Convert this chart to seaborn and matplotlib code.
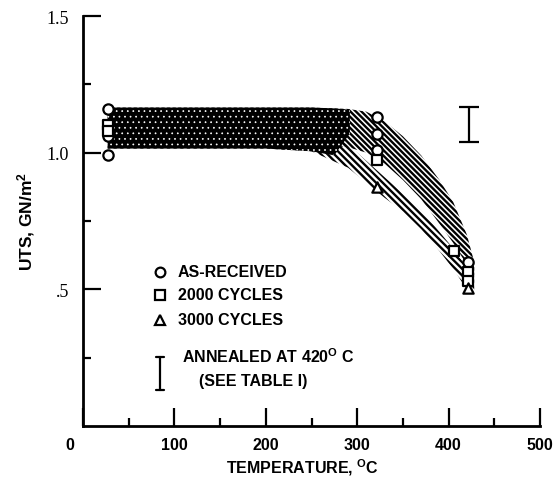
import numpy as np
import pandas as pd
import matplotlib
matplotlib.use("Agg")
import matplotlib.pyplot as plt
import matplotlib.transforms as mtransforms
import seaborn as sns

# --- measured ultimate tensile strength, GN/m^2 -----------------------------
received_temp = [27, 27, 27, 322, 322, 322, 421]
received_uts = [1.16, 1.06, 0.99, 1.13, 1.07, 1.01, 0.60]

cycles2000_temp = [27, 27, 322, 406, 421, 421]
cycles2000_uts = [1.10, 1.08, 0.975, 0.64, 0.565, 0.53]

cycles3000_temp = [322, 421]
cycles3000_uts = [0.875, 0.505]

# annealed scatter band (error bar)
annealed_temp = [422]
annealed_uts = [1.103]
annealed_err = [0.064]

# scatter bands
band_temp = [27, 100, 200, 250, 290, 310, 330, 350, 370, 390, 405, 420, 428]
band_a_upper = [1.165, 1.165, 1.165, 1.165, 1.16, 1.15, 1.115, 1.06, 0.99, 0.90, 0.82, 0.70, 0.60]
band_a_lower = [1.03, 1.03, 1.03, 1.03, 1.02, 1.00, 0.96, 0.90, 0.83, 0.74, 0.67, 0.59, 0.55]
band_b_upper = [1.10, 1.10, 1.10, 1.08, 1.03, 0.97, 0.91, 0.85, 0.79, 0.71, 0.65, 0.58, 0.54]
band_b_lower = [1.015, 1.015, 1.015, 1.005, 0.945, 0.89, 0.835, 0.785, 0.72, 0.64, 0.575, 0.50, 0.49]
flat_temp = [27, 100, 200, 250, 275, 292]
flat_upper = [1.165, 1.165, 1.165, 1.165, 1.162, 1.157]
flat_lower = [1.015, 1.015, 1.015, 1.005, 0.99, 1.07]

x_ticks = [0, 100, 200, 300, 400, 500]
y_ticks = [0.5, 1.0, 1.5]
y_tick_labels = [".5", "1.0", "1.5"]

sns.set_theme(style="ticks")
SANS = ["Liberation Sans", "DejaVu Sans"]
plt.rcParams["font.family"] = SANS
plt.rcParams["font.weight"] = "bold"
plt.rcParams["text.color"] = "black"
plt.rcParams["axes.labelcolor"] = "black"
plt.rcParams["xtick.color"] = "black"
plt.rcParams["ytick.color"] = "black"
plt.rcParams["mathtext.fontset"] = "custom"
plt.rcParams["mathtext.rm"] = "Liberation Sans:bold"
plt.rcParams["mathtext.it"] = "Liberation Sans:bold"
plt.rcParams["mathtext.bf"] = "Liberation Sans:bold"

FS = 11.5
fig = plt.figure(figsize=(5.53, 4.81), dpi=100)
ax = fig.add_axes([83 / 553, 54 / 481, 457 / 553, 410 / 481])

# hatched scatter bands
plt.rcParams["hatch.linewidth"] = 1.7
ax.fill_between(band_temp, band_a_lower, band_a_upper, facecolor="none",
                edgecolor="black", hatch="\\" * 6, linewidth=0)
ax.fill_between(band_temp, band_b_lower, band_b_upper, facecolor="none",
                edgecolor="black", hatch="\\" * 5, linewidth=0)
# overlap of the bands at low temperature: black with a white dot screen
plt.rcParams["hatch.linewidth"] = 0.5
ax.fill_between(flat_temp, flat_lower, flat_upper, facecolor="black",
                edgecolor="white", hatch="...", linewidth=0)

# data points
df = pd.concat([
    pd.DataFrame({"temp": received_temp, "uts": received_uts, "cond": "AS-RECEIVED"}),
    pd.DataFrame({"temp": cycles2000_temp, "uts": cycles2000_uts, "cond": "2000 CYCLES"}),
    pd.DataFrame({"temp": cycles3000_temp, "uts": cycles3000_uts, "cond": "3000 CYCLES"}),
])
markers = {"AS-RECEIVED": "o", "2000 CYCLES": "s", "3000 CYCLES": "^"}
for cond, mk in markers.items():
    sub = df[df["cond"] == cond]
    sns.scatterplot(data=sub, x="temp", y="uts", marker=mk, s=55,
                    color="white", edgecolor="black", linewidth=1.6,
                    ax=ax, legend=False, zorder=3)

ax.errorbar(annealed_temp, annealed_uts, yerr=annealed_err, fmt="none",
            ecolor="black", elinewidth=1.6, capsize=7, capthick=1.6)

# axes
ax.set_xlim(0, 500)
ax.set_ylim(0, 1.5)
sns.despine(ax=ax)
for s in ("left", "bottom"):
    ax.spines[s].set_linewidth(2.0)
    ax.spines[s].set_color("black")
ax.set_xticks(x_ticks)
ax.set_xticks([50, 150, 250, 350, 450], minor=True)
ax.set_yticks(y_ticks)
ax.set_yticks([0.25, 0.75, 1.25], minor=True)
ax.set_yticklabels(y_tick_labels, family="Liberation Serif", fontsize=13, weight="normal")
ax.set_xticklabels([str(v) for v in x_ticks], fontsize=FS, weight="bold")
ax.tick_params(which="major", direction="in", length=13, width=1.6, color="black", pad=8)
ax.tick_params(which="minor", direction="in", length=6, width=1.6, color="black")
ax.tick_params(axis="y", which="major", pad=10)

# the zero label sits slightly left of the origin
zero_lbl = ax.get_xticklabels()[0]
zero_lbl.set_transform(zero_lbl.get_transform() +
                       mtransforms.ScaledTranslation(-0.13, 0, fig.dpi_scale_trans))

ax.set_xlabel(r"TEMPERATURE, $^{\mathrm{O}}$C", fontsize=FS, weight="bold")
ax.xaxis.set_label_coords(0.48, -0.075)
ax.set_ylabel(r"UTS, GN/m$^{\mathrm{2}}$", fontsize=12.5, weight="bold")
ax.yaxis.set_label_coords(-0.10, 0.502)

# key
kx, tx = 0.168, 0.208
tr = ax.transAxes
for y, mk, lbl in [(0.376, "o", "AS-RECEIVED"), (0.320, "s", "2000 CYCLES"),
                   (0.259, "^", "3000 CYCLES")]:
    ax.plot([kx], [y], marker=mk, ms=7, mfc="white", mec="black", mew=1.6,
            transform=tr, clip_on=False)
    ax.text(tx, y, lbl, transform=tr, fontsize=FS, weight="bold", va="center")
ax.plot([kx, kx], [0.088, 0.168], color="black", lw=1.6, transform=tr)
for y in (0.088, 0.168):
    ax.plot([kx - 0.009, kx + 0.009], [y, y], color="black", lw=1.6, transform=tr)
ax.text(0.217, 0.171, r"ANNEALED AT 420$^{\mathrm{O}}$ C", transform=tr,
        fontsize=FS, weight="bold", va="center")
ax.text(0.254, 0.110, "(SEE TABLE I)", transform=tr, fontsize=FS,
        weight="bold", va="center")

fig.savefig("out.png", dpi=100, facecolor="white")
